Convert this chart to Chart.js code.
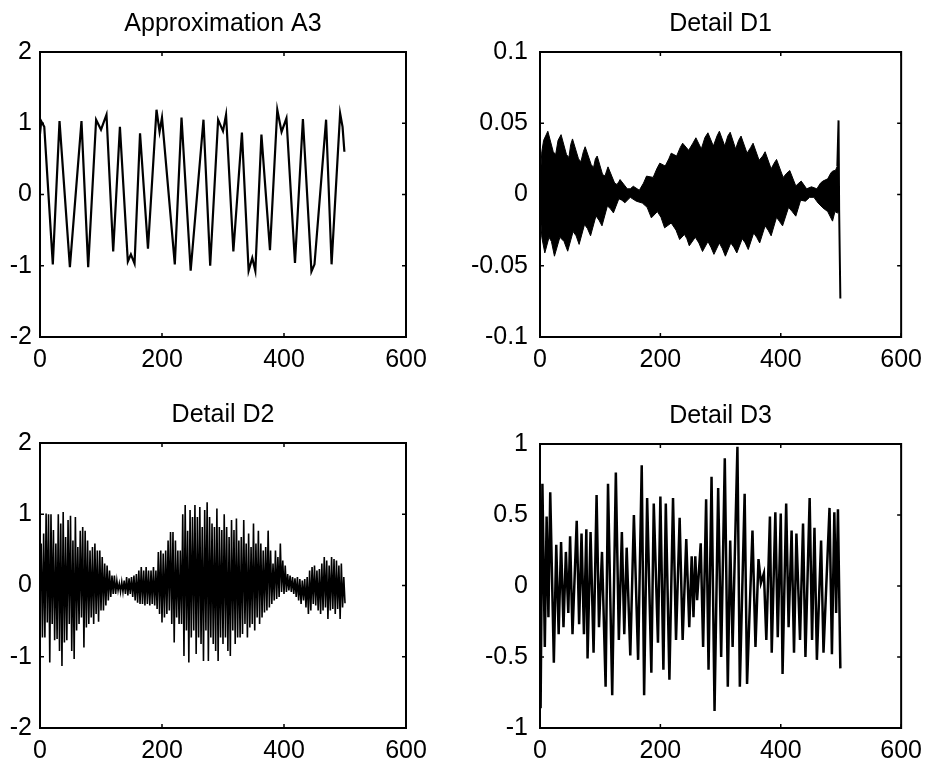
<!DOCTYPE html>
<html>
<head>
<meta charset="utf-8">
<script src="https://cdn.jsdelivr.net/npm/chart.js@4.4.0/dist/chart.umd.min.js"></script>
<style>
  body { margin: 0; background: #fff; width: 930px; height: 766px; position: relative; overflow: hidden; }
  canvas { position: absolute; }
</style>
</head>
<body>
<canvas id="a3" width="465" height="383" style="left:0;top:0"></canvas>
<canvas id="d1" width="465" height="383" style="left:465px;top:0"></canvas>
<canvas id="d2" width="465" height="383" style="left:0;top:383px"></canvas>
<canvas id="d3" width="465" height="383" style="left:465px;top:383px"></canvas>
<script>
// tick labels
const xTicks = [0, 200, 400, 600];
const a3Ticks = [-2, -1, 0, 1, 2];
const d1Ticks = [-0.1, -0.05, 0, 0.05, 0.1];
const d2Ticks = [-2, -1, 0, 1, 2];
const d3Ticks = [-1, -0.5, 0, 0.5, 1];

// Approximation A3 (peaks / troughs)
const a3X = [0,2,7,21,32,49,68,79,92,100, 109,120,131,144,149,155,164,177,191,196,
  200,221,232,247,268,279,292,300,305,317, 331,342,348,353,363,377,389,396,404,418,
  431,445,450,469,478,492,496,499];
const a3Y = [0.85,1.03,0.95,-0.98,1.03,-1.02,1.03,-1.02,1.05,0.91, 1.12,-0.80,0.95,-0.94,-0.84,-0.97,0.86,-0.76,1.19,0.88,
  1.08,-0.98,1.08,-1.07,1.05,-1.0,1.05,0.89,1.12,-0.80, 0.87,-1.07,-0.89,-1.07,0.84,-0.78,1.19,0.88,1.07,-0.96,
  1.06,-1.08,-0.98,1.05,-0.98,1.14,0.95,0.6];

// Detail D1: upper / lower envelope of the dense oscillation, plus end spike
const d1UpX = [0,3,6,13,22,26,30,35,44,48, 51,54,64,68,72,75,85,89,92,95,
  104,108,111,113,124,128,131,133,145,150, 155,165,172,177,188,194,199,208,214,218,
  227,233,237,247,254,259,268,274,279,288, 294,298,307,312,316,325,330,334,344,350,
  354,364,370,374,384,389,393,404,410,415, 425,430,434,443,451,460,466,470,478,483,
  486,491,494,497];
const d1UpY = [0.008,0.030,0.038,0.0444,0.030,0.028,0.038,0.042,0.028,0.026,
  0.035,0.039,0.025,0.023,0.030,0.0335,0.021,0.019,0.025,0.027,
  0.014,0.013,0.017,0.0194,0.008,0.007,0.009,0.0105,0.004,0.004,
  0.0058,0.003,0.008,0.0129,0.012,0.018,0.022,0.020,0.025,0.029,
  0.027,0.033,0.036,0.031,0.036,0.0398,0.032,0.040,0.0433,0.034,
  0.041,0.0444,0.034,0.041,0.0437,0.032,0.038,0.041,0.029,0.033,
  0.036,0.024,0.027,0.030,0.018,0.022,0.0246,0.012,0.015,0.0168,
  0.006,0.008,0.0094,0.004,0.0054,0.004,0.008,0.0094,0.011,0.015,
  0.0164,0.017,0.020,0.021];
const d1LoX = [0,3,8,15,19,24,33,40,46,55, 60,65,74,79,84,93,98,103,112,117,
  122,131,136,141,150,160,170,178,185,195, 201,207,218,226,232,240,244,248,258,264,
  270,279,284,289,298,303,308,317,322,327, 336,341,346,355,360,365,374,379,384,393,
  398,403,413,419,425,433,441,448,455,462, 470,478,486,490,494,497];
const d1LoY = [-0.010,-0.030,-0.041,-0.030,-0.033,-0.0433,-0.030,-0.033,-0.0398,-0.026,
  -0.029,-0.035,-0.021,-0.024,-0.029,-0.015,-0.018,-0.022,-0.008,-0.010,
  -0.0129,-0.003,-0.004,-0.0058,-0.002,-0.0047,-0.006,-0.009,-0.0164,-0.012,
  -0.016,-0.0234,-0.020,-0.025,-0.0316,-0.028,-0.031,-0.036,-0.030,-0.034,
  -0.040,-0.033,-0.037,-0.042,-0.034,-0.038,-0.0433,-0.034,-0.037,-0.041,
  -0.031,-0.034,-0.0386,-0.027,-0.030,-0.034,-0.022,-0.025,-0.029,-0.016,
  -0.019,-0.022,-0.009,-0.012,-0.0152,-0.004,-0.0047,-0.002,-0.002,-0.006,
  -0.0094,-0.012,-0.0187,-0.012,-0.013,-0.012];
const d1SpikeX = [494, 496, 497, 498, 499];
const d1SpikeY = [0.020, 0.052, -0.011, -0.011, -0.073];

// Detail D2: spike tops every 4 samples from sample 2, bottoms 2 samples later
const d2Start = 2;
const d2Step = 4;
const d2Hi = [0.59,0.73,1.01,1.00,1.00,0.78,0.59,1.00,0.87,1.03,0.68,0.92,0.98,0.63,0.96,
  0.54,0.77,0.82,0.77,0.63,0.49,0.54,0.59,0.49,0.49,0.40,0.31,0.28,0.21,0.14,
  0.14,0.07,0.03,0.05,0.07,0.12,0.10,0.12,0.14,0.16,0.21,0.26,0.21,0.26,0.21,
  0.21,0.26,0.21,0.47,0.49,0.45,0.49,0.63,0.75,0.75,0.63,0.49,0.49,1.00,1.13,
  0.77,1.06,0.96,1.13,0.96,1.10,0.82,1.06,1.17,0.96,0.87,0.82,1.08,0.82,0.78,
  1.00,0.82,0.68,0.92,0.78,0.94,0.63,0.68,0.92,0.59,0.73,0.54,0.87,0.59,0.77,
  0.59,0.49,0.54,0.77,0.49,0.31,0.49,0.40,0.59,0.35,0.28,0.16,0.14,0.12,0.10,
  0.12,0.09,0.07,0.09,0.12,0.21,0.26,0.28,0.21,0.23,0.31,0.40,0.35,0.28,0.40,
  0.37,0.35,0.28,0.31,0.12];
const d2Lo = [-0.73,-0.73,-0.52,-1.08,-0.54,-0.77,-0.75,-0.92,-1.13,-0.80,-0.77,-0.54,-0.92,-1.03,-0.63,
  -0.54,-0.45,-0.87,-0.59,-0.54,-0.45,-0.54,-0.40,-0.51,-0.35,-0.35,-0.28,-0.21,-0.16,-0.12,
  -0.12,-0.07,-0.09,-0.09,-0.12,-0.14,-0.12,-0.16,-0.21,-0.24,-0.26,-0.26,-0.28,-0.26,-0.28,
  -0.26,-0.28,-0.33,-0.40,-0.52,-0.45,-0.40,-0.35,-0.54,-0.80,-0.45,-0.54,-0.54,-0.99,-0.63,
  -1.08,-0.73,-0.63,-0.96,-0.73,-0.82,-1.06,-0.63,-1.06,-0.73,-0.82,-0.92,-1.06,-0.73,-0.82,
  -0.73,-0.92,-0.99,-0.63,-0.82,-0.73,-0.73,-0.68,-0.54,-0.73,-0.59,-0.54,-0.63,-0.45,-0.54,
  -0.45,-0.38,-0.35,-0.31,-0.26,-0.21,-0.19,-0.16,-0.09,-0.12,-0.09,-0.07,-0.09,-0.12,-0.16,
  -0.21,-0.26,-0.21,-0.31,-0.40,-0.35,-0.26,-0.28,-0.35,-0.40,-0.35,-0.31,-0.47,-0.35,-0.33,
  -0.40,-0.33,-0.47,-0.31,-0.25];

// Detail D3 (alternating extremes)
const d3X = [1,4,8,11,14,17,23,27,31,35, 39,43,47,50,54,61,65,69,73,77,
  79,84,89,94,98,103,109,113,120,126, 131,136,140,144,150,156,163,169,173,178,
  185,189,196,200,205,209,215,221,226,232, 237,243,248,252,255,258,261,267,271,276,
  280,285,290,296,301,307,312,316,320,328, 332,340,344,353,358,363,367,372,376,382,
  385,391,395,400,403,409,413,418,422,426, 432,437,441,448,452,456,460,467,471,481,
  485,489,492,495,499];
const d3Y = [-0.86,0.72,-0.43,0.49,-0.22,0.66,-0.54,0.29,-0.34,0.31,
  -0.29,0.24,-0.19,0.35,-0.34,0.46,-0.27,0.37,-0.34,0.40,
  -0.51,0.38,-0.47,0.64,-0.29,0.24,-0.71,0.72,-0.77,0.80,
  -0.38,0.38,-0.34,0.27,-0.49,0.50,-0.52,0.85,-0.77,0.62,
  -0.61,0.58,-0.40,0.63,-0.59,0.58,-0.66,0.62,-0.38,0.48,
  -0.38,0.33,-0.29,0.21,-0.22,0.21,-0.10,0.30,-0.43,0.61,
  -0.59,0.77,-0.88,0.69,-0.50,0.90,-0.71,0.32,-0.43,0.98,
  -0.71,0.65,-0.69,0.39,-0.43,0.19,0.02,0.09,-0.38,0.49,
  -0.47,0.52,-0.36,0.51,-0.62,0.58,-0.29,0.39,-0.47,0.37,
  -0.38,0.44,-0.50,0.62,-0.38,0.41,-0.52,0.32,-0.47,0.55,
  -0.48,0.52,-0.19,0.54,-0.58];

Chart.defaults.font.family = '"Liberation Sans", Arial, sans-serif';
Chart.defaults.color = '#000';

function pts(xs, ys) {
  return xs.map((x, i) => ({ x: x, y: ys[i] }));
}

function zigzag(start, step, hi, lo) {
  const out = [];
  hi.forEach((h, i) => {
    out.push({ x: start + i * step, y: h });
    out.push({ x: start + i * step + step / 2, y: lo[i] });
  });
  return out;
}

// box, inward ticks and title, like the matlab axes
const frame = {
  id: 'frame',
  afterDraw(chart, args, opts) {
    const ctx = chart.ctx;
    const a = chart.chartArea;
    const sx = chart.scales.x;
    const sy = chart.scales.y;
    ctx.save();
    ctx.strokeStyle = '#000';
    ctx.lineWidth = 2;
    ctx.strokeRect(a.left, a.top, a.right - a.left, a.bottom - a.top);
    ctx.lineWidth = 1.5;
    ctx.beginPath();
    sx.ticks.forEach(t => {
      const px = sx.getPixelForValue(t.value);
      ctx.moveTo(px, a.bottom); ctx.lineTo(px, a.bottom - 4);
      ctx.moveTo(px, a.top); ctx.lineTo(px, a.top + 4);
    });
    sy.ticks.forEach(t => {
      const py = sy.getPixelForValue(t.value);
      ctx.moveTo(a.left, py); ctx.lineTo(a.left + 4, py);
      ctx.moveTo(a.right, py); ctx.lineTo(a.right - 4, py);
    });
    ctx.stroke();
    ctx.fillStyle = '#000';
    ctx.font = '25px "Liberation Sans", Arial, sans-serif';
    ctx.textAlign = 'center';
    ctx.textBaseline = 'alphabetic';
    ctx.fillText(opts.text, (a.left + a.right) / 2, a.top - 21);
    ctx.restore();
  }
};

function makeChart(id, c) {
  return new Chart(document.getElementById(id), {
    type: 'line',
    data: { datasets: c.datasets },
    options: {
      responsive: false,
      animation: false,
      layout: { padding: { top: c.top, right: c.right, left: 0, bottom: 0 } },
      plugins: {
        legend: { display: false },
        tooltip: { enabled: false },
        frame: { text: c.title }
      },
      elements: {
        point: { radius: 0 },
        line: { borderColor: '#000', borderWidth: 1, tension: 0 }
      },
      scales: {
        x: {
          type: 'linear', min: 0, max: 600,
          grid: { display: false, drawTicks: false },
          border: { display: false },
          afterBuildTicks: s => { s.ticks = xTicks.map(v => ({ value: v })); },
          afterFit: s => { s.height = c.bottom; },
          ticks: { padding: 8, autoSkip: false, maxRotation: 0, color: '#000',
                   font: { size: 25 }, callback: v => String(v) }
        },
        y: {
          type: 'linear', min: c.yTicks[0], max: c.yTicks[c.yTicks.length - 1],
          grid: { display: false, drawTicks: false },
          border: { display: false },
          afterBuildTicks: s => { s.ticks = c.yTicks.map(v => ({ value: v })); },
          afterFit: s => { s.width = c.axisW; },
          ticks: { padding: c.yPad, autoSkip: false, color: '#000',
                   font: { size: 25 }, callback: v => String(v) }
        }
      }
    },
    plugins: [frame]
  });
}

makeChart('a3', {
  title: 'Approximation A3', yTicks: a3Ticks,
  top: 52, right: 59, bottom: 46, axisW: 40, yPad: 8,
  datasets: [{ data: pts(a3X, a3Y), borderWidth: 2.2 }]
});

makeChart('d1', {
  title: 'Detail D1', yTicks: d1Ticks,
  top: 52, right: 24, bottom: 46, axisW: 75, yPad: 12,
  datasets: [
    { data: pts(d1UpX, d1UpY), fill: '+1', backgroundColor: '#000' },
    { data: pts(d1LoX, d1LoY) },
    { data: pts(d1SpikeX, d1SpikeY), borderWidth: 2 }
  ]
});

makeChart('d2', {
  title: 'Detail D2', yTicks: d2Ticks,
  top: 60, right: 59, bottom: 38, axisW: 40, yPad: 8,
  datasets: [{ data: zigzag(d2Start, d2Step, d2Hi, d2Lo), borderWidth: 1.6 }]
});

makeChart('d3', {
  title: 'Detail D3', yTicks: d3Ticks,
  top: 61, right: 24, bottom: 38, axisW: 75, yPad: 12,
  datasets: [{ data: pts(d3X, d3Y), borderWidth: 2.5 }]
});
</script>
</body>
</html>
